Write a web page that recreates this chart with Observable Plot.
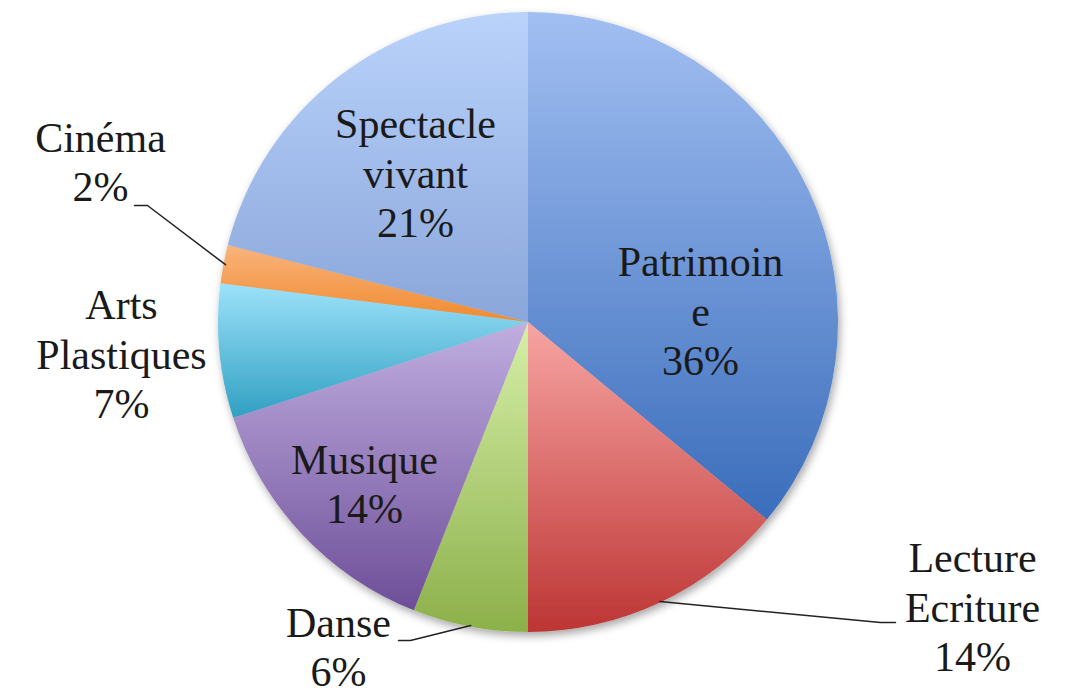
<!DOCTYPE html>
<html><head><meta charset="utf-8">
<script src="https://cdn.jsdelivr.net/npm/d3@7"></script>
<script src="https://cdn.jsdelivr.net/npm/@observablehq/plot@0.6"></script>
<style>body{margin:0;background:#fff}</style>
</head><body><div id="chart"></div>
<script>
// ---- data ----
const categories = ["Patrimoine", "Lecture Ecriture", "Danse", "Musique", "Arts Plastiques", "Cinéma", "Spectacle vivant"];
const shares = [36, 14, 6, 14, 7, 2, 21];
const labelNames = ["Patrimoin\ne", "Lecture\nEcriture", "Danse", "Musique", "Arts\nPlastiques", "Cinéma", "Spectacle\nvivant"];
const colorTop = ["#a2bff2", "#f7a5a3", "#d6efa8", "#c0aee0", "#9de2fa", "#f9b47c", "#b9d3fb"];
const colorBottom = ["#3a6dbb", "#bd3534", "#8cb04a", "#6d4e98", "#30a0c2", "#f08a30", "#8aa6da"];

// ---- layout (pixels) ----
const W = 1066, H = 695, CX = 528, CY = 322, R = 310;
const labelPos = [[700, 309], [972, 605], [338, 645], [364, 482], [121, 352], [100, 160], [415, 171]];
const leaderLabelSide = {1: [[895, 622], [880, 622]], 2: [[398, 640], [410, 640]], 5: [[134, 205], [147, 205]]};

const toX = px => (px - CX) / R;
const toY = py => (CY - py) / R;

const pie = d3.pie().sort(null).value(d => d.share).startAngle(0).endAngle(2 * Math.PI);
const data = categories.map((c, i) => ({category: c, share: shares[i], i}));
const arcs = pie(data);

const labels = arcs.map((a, i) => ({
  x: toX(labelPos[i][0]), y: toY(labelPos[i][1]),
  text: labelNames[i] + "\n" + shares[i] + "%"
}));

const leaders = [];
Object.entries(leaderLabelSide).forEach(([k, pts]) => {
  const a = arcs[+k];
  const mid = (a.startAngle + a.endAngle) / 2;
  const pts2 = pts.map(p => ({x: toX(p[0]), y: toY(p[1]), k}));
  pts2.push({x: 0.995 * Math.sin(mid), y: 0.995 * Math.cos(mid), k});
  leaders.push(...pts2);
});

function wedges(index, scales, values, dimensions) {
  const g = d3.create("svg:g");
  const defs = g.append("defs");
  const f = defs.append("filter").attr("id", "shadow").attr("x", "-10%").attr("y", "-10%").attr("width", "120%").attr("height", "120%");
  f.append("feDropShadow").attr("dx", 2).attr("dy", 4).attr("stdDeviation", 4).attr("flood-color", "#000").attr("flood-opacity", 0.35);
  arcs.forEach((a, i) => {
    const lg = defs.append("linearGradient").attr("id", "grad" + i)
      .attr("x1", 0).attr("y1", 0).attr("x2", 0).attr("y2", 1);
    lg.append("stop").attr("offset", "0%").attr("stop-color", colorTop[i]);
    lg.append("stop").attr("offset", "100%").attr("stop-color", colorBottom[i]);
  });
  const cx = scales.x(0), cy = scales.y(0);
  const r = scales.x(1) - scales.x(0);
  const arc = d3.arc().innerRadius(0).outerRadius(r);
  const pg = g.append("g").attr("transform", `translate(${cx},${cy})`).attr("filter", "url(#shadow)");
  pg.selectAll("path").data(arcs).join("path")
    .attr("d", arc)
    .attr("fill", (d, i) => `url(#grad${i})`);
  return g.node();
}

const chart = Plot.plot({
  width: W, height: H,
  margin: 0,
  x: {domain: [toX(0), toX(W)], axis: null},
  y: {domain: [toY(H), toY(0)], axis: null},
  marks: [
    wedges,
    Plot.line(leaders, {x: "x", y: "y", z: "k", stroke: "#222", strokeWidth: 1.5}),
    Plot.text(labels, {x: "x", y: "y", text: "text", fontFamily: "Liberation Serif", fontSize: 42, lineHeight: 1.19, fill: "#1a1a1a"})
  ]
});
document.getElementById("chart").appendChild(chart);
</script>
</body></html>
